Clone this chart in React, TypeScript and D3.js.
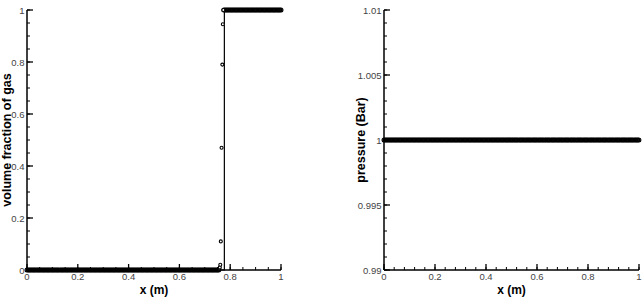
import React from "react";
import * as d3 from "d3";

// Shared cell-centre grid (m)
const xGrid = [
  0, 0.005, 0.01, 0.015, 0.02, 0.025, 0.03, 0.035, 0.04, 0.045, 0.05, 0.055, 0.06, 0.065, 0.07, 0.075, 0.08, 0.085, 0.09, 0.095,
  0.1, 0.105, 0.11, 0.115, 0.12, 0.125, 0.13, 0.135, 0.14, 0.145, 0.15, 0.155, 0.16, 0.165, 0.17, 0.175, 0.18, 0.185, 0.19, 0.195,
  0.2, 0.205, 0.21, 0.215, 0.22, 0.225, 0.23, 0.235, 0.24, 0.245, 0.25, 0.255, 0.26, 0.265, 0.27, 0.275, 0.28, 0.285, 0.29, 0.295,
  0.3, 0.305, 0.31, 0.315, 0.32, 0.325, 0.33, 0.335, 0.34, 0.345, 0.35, 0.355, 0.36, 0.365, 0.37, 0.375, 0.38, 0.385, 0.39, 0.395,
  0.4, 0.405, 0.41, 0.415, 0.42, 0.425, 0.43, 0.435, 0.44, 0.445, 0.45, 0.455, 0.46, 0.465, 0.47, 0.475, 0.48, 0.485, 0.49, 0.495,
  0.5, 0.505, 0.51, 0.515, 0.52, 0.525, 0.53, 0.535, 0.54, 0.545, 0.55, 0.555, 0.56, 0.565, 0.57, 0.575, 0.58, 0.585, 0.59, 0.595,
  0.6, 0.605, 0.61, 0.615, 0.62, 0.625, 0.63, 0.635, 0.64, 0.645, 0.65, 0.655, 0.66, 0.665, 0.67, 0.675, 0.68, 0.685, 0.69, 0.695,
  0.7, 0.705, 0.71, 0.715, 0.72, 0.725, 0.73, 0.735, 0.74, 0.745, 0.75, 0.755, 0.76, 0.765, 0.77, 0.775, 0.78, 0.785, 0.79, 0.795,
  0.8, 0.805, 0.81, 0.815, 0.82, 0.825, 0.83, 0.835, 0.84, 0.845, 0.85, 0.855, 0.86, 0.865, 0.87, 0.875, 0.88, 0.885, 0.89, 0.895,
  0.9, 0.905, 0.91, 0.915, 0.92, 0.925, 0.93, 0.935, 0.94, 0.945, 0.95, 0.955, 0.96, 0.965, 0.97, 0.975, 0.98, 0.985, 0.99, 0.995,
  1,
];

// Gas volume fraction on the grid (null = cell plotted in the fine transition list below)
const alphaOnGrid: (number | null)[] = [
  0, 0, 0, 0, 0, 0, 0, 0, 0, 0, 0, 0, 0, 0, 0, 0, 0, 0, 0, 0,
  0, 0, 0, 0, 0, 0, 0, 0, 0, 0, 0, 0, 0, 0, 0, 0, 0, 0, 0, 0,
  0, 0, 0, 0, 0, 0, 0, 0, 0, 0, 0, 0, 0, 0, 0, 0, 0, 0, 0, 0,
  0, 0, 0, 0, 0, 0, 0, 0, 0, 0, 0, 0, 0, 0, 0, 0, 0, 0, 0, 0,
  0, 0, 0, 0, 0, 0, 0, 0, 0, 0, 0, 0, 0, 0, 0, 0, 0, 0, 0, 0,
  0, 0, 0, 0, 0, 0, 0, 0, 0, 0, 0, 0, 0, 0, 0, 0, 0, 0, 0, 0,
  0, 0, 0, 0, 0, 0, 0, 0, 0, 0, 0, 0, 0, 0, 0, 0, 0, 0, 0, 0,
  0, 0, 0, 0, 0, 0, 0, 0, 0, 0, 0, 0, null, null, null, 1, 1, 1, 1, 1,
  1, 1, 1, 1, 1, 1, 1, 1, 1, 1, 1, 1, 1, 1, 1, 1, 1, 1, 1, 1,
  1, 1, 1, 1, 1, 1, 1, 1, 1, 1, 1, 1, 1, 1, 1, 1, 1, 1, 1, 1,
  1,
];

// Cells across the interface
const transitionX = [0.757, 0.759, 0.761, 0.763, 0.766, 0.769, 0.771, 0.773];
const transitionAlpha = [0.005, 0.01, 0.02, 0.11, 0.47, 0.79, 0.945, 1];

// Exact solution (solid line)
const exactX = [0, 0.777, 0.777, 1];
const exactAlpha = [0, 0, 1, 1];

// Pressure (Bar) on the grid
const pressureOnGrid = [
  1, 1, 1, 1, 1, 1, 1, 1, 1, 1, 1, 1, 1, 1, 1, 1, 1, 1, 1, 1,
  1, 1, 1, 1, 1, 1, 1, 1, 1, 1, 1, 1, 1, 1, 1, 1, 1, 1, 1, 1,
  1, 1, 1, 1, 1, 1, 1, 1, 1, 1, 1, 1, 1, 1, 1, 1, 1, 1, 1, 1,
  1, 1, 1, 1, 1, 1, 1, 1, 1, 1, 1, 1, 1, 1, 1, 1, 1, 1, 1, 1,
  1, 1, 1, 1, 1, 1, 1, 1, 1, 1, 1, 1, 1, 1, 1, 1, 1, 1, 1, 1,
  1, 1, 1, 1, 1, 1, 1, 1, 1, 1, 1, 1, 1, 1, 1, 1, 1, 1, 1, 1,
  1, 1, 1, 1, 1, 1, 1, 1, 1, 1, 1, 1, 1, 1, 1, 1, 1, 1, 1, 1,
  1, 1, 1, 1, 1, 1, 1, 1, 1, 1, 1, 1, 1, 1, 1, 1, 1, 1, 1, 1,
  1, 1, 1, 1, 1, 1, 1, 1, 1, 1, 1, 1, 1, 1, 1, 1, 1, 1, 1, 1,
  1, 1, 1, 1, 1, 1, 1, 1, 1, 1, 1, 1, 1, 1, 1, 1, 1, 1, 1, 1,
  1,
];
const exactPressureX = [0, 1];
const exactPressure = [1, 1];

// Ticks
const xMajorTicks = [0, 0.2, 0.4, 0.6, 0.8, 1];
const xTickLabels = ["0", "0.2", "0.4", "0.6", "0.8", "1"];
const alphaMajorTicks = [0, 0.2, 0.4, 0.6, 0.8, 1];
const alphaTickLabels = ["0", "0.2", "0.4", "0.6", "0.8", "1"];
const pressureMajorTicks = [0.99, 0.995, 1, 1.005, 1.01];
const pressureTickLabels = ["0.99", "0.995", "1", "1.005", "1.01"];

const FONT = "'Liberation Sans', Arial, Helvetica, sans-serif";
const TICK_COLOR = "#444";

type PanelProps = {
  left: number;
  right: number;
  top: number;
  bottom: number;
  yDomain: [number, number];
  xMinorStep: number;
  yMinorStep: number;
  yMajor: number[];
  yLabels: string[];
  yTitle: string;
  yTitleX: number;
  children: (x: d3.ScaleLinear<number, number>, y: d3.ScaleLinear<number, number>) => React.ReactNode;
};

function minorTicks(domain: [number, number], step: number) {
  const n = Math.round((domain[1] - domain[0]) / step);
  const out: number[] = [];
  for (let i = 0; i <= n; i++) out.push(domain[0] + i * step);
  return out;
}

function Panel(p: PanelProps) {
  const x = d3.scaleLinear().domain([0, 1]).range([p.left, p.right]);
  const y = d3.scaleLinear().domain(p.yDomain).range([p.bottom, p.top]);
  const xm = minorTicks([0, 1], p.xMinorStep);
  const ym = minorTicks(p.yDomain, p.yMinorStep);
  const cy = (p.top + p.bottom) / 2;
  return (
    <g>
      {p.children(x, y)}
      {/* axes */}
      <line x1={p.left} x2={p.right} y1={p.bottom} y2={p.bottom} stroke="#000" strokeWidth={1.5} />
      <line x1={p.left} x2={p.left} y1={p.top} y2={p.bottom} stroke="#000" strokeWidth={1.5} />
      {xm.map((v, i) => (
        <line key={"xm" + i} x1={x(v)} x2={x(v)} y1={p.bottom} y2={p.bottom - 3} stroke="#000" strokeWidth={1} />
      ))}
      {xMajorTicks.map((v, i) => (
        <line key={"xM" + i} x1={x(v)} x2={x(v)} y1={p.bottom} y2={p.bottom - 6} stroke="#000" strokeWidth={1.3} />
      ))}
      {ym.map((v, i) => (
        <line key={"ym" + i} x1={p.left} x2={p.left + 3} y1={y(v)} y2={y(v)} stroke="#000" strokeWidth={1} />
      ))}
      {p.yMajor.map((v, i) => (
        <line key={"yM" + i} x1={p.left} x2={p.left + 6} y1={y(v)} y2={y(v)} stroke="#000" strokeWidth={1.3} />
      ))}
      {xMajorTicks.map((v, i) => (
        <text key={"xl" + i} x={x(v)} y={p.bottom + 10} fontSize={9.5} fontFamily={FONT} fill={TICK_COLOR} textAnchor="middle">
          {xTickLabels[i]}
        </text>
      ))}
      {p.yMajor.map((v, i) => (
        <text key={"yl" + i} x={p.left - 2.5} y={y(v) + 3.5} fontSize={9.5} fontFamily={FONT} fill={TICK_COLOR} textAnchor="end">
          {p.yLabels[i]}
        </text>
      ))}
      <text x={(p.left + p.right) / 2} y={p.bottom + 24} fontSize={12} fontWeight="bold" fontFamily={FONT} textAnchor="middle">
        x (m)
      </text>
      <text
        transform={`translate(${p.yTitleX},${cy}) rotate(-90)`}
        fontSize={12.5}
        fontWeight="bold"
        fontFamily={FONT}
        textAnchor="middle"
      >
        {p.yTitle}
      </text>
    </g>
  );
}

const R = 1.9;
const SW = 1.2;

export default function App() {
  const lineGen = (x: d3.ScaleLinear<number, number>, y: d3.ScaleLinear<number, number>, xs: number[], ys: number[]) =>
    d3
      .line<number>()
      .x((_, i) => x(xs[i]))
      .y((v) => y(v))(ys) || "";

  return (
    <svg width={644} height={305} style={{ position: "absolute", left: 0, top: 0, background: "#fff" }}>
      <rect width={644} height={305} fill="#fff" />
      <Panel
        left={27}
        right={281}
        top={10}
        bottom={270}
        yDomain={[0, 1]}
        xMinorStep={0.05}
        yMinorStep={0.05}
        yMajor={alphaMajorTicks}
        yLabels={alphaTickLabels}
        yTitle="volume fraction of gas"
        yTitleX={10.5}
      >
        {(x, y) => (
          <g>
            <path d={lineGen(x, y, exactX, exactAlpha)} fill="none" stroke="#000" strokeWidth={1.2} />
            {xGrid.map((xv, i) =>
              alphaOnGrid[i] === null ? null : (
                <circle key={"a" + i} cx={x(xv)} cy={y(alphaOnGrid[i] as number)} r={R} fill="none" stroke="#000" strokeWidth={SW} />
              )
            )}
            {transitionX.map((xv, i) => (
              <circle key={"t" + i} cx={x(xv)} cy={y(transitionAlpha[i])} r={1.5} fill="#fff" stroke="#000" strokeWidth={1.1} />
            ))}
          </g>
        )}
      </Panel>
      <Panel
        left={384}
        right={639}
        top={10}
        bottom={270}
        yDomain={[0.99, 1.01]}
        xMinorStep={0.04}
        yMinorStep={0.001}
        yMajor={pressureMajorTicks}
        yLabels={pressureTickLabels}
        yTitle="pressure (Bar)"
        yTitleX={365}
      >
        {(x, y) => (
          <g>
            <path d={lineGen(x, y, exactPressureX, exactPressure)} fill="none" stroke="#000" strokeWidth={1.2} />
            {xGrid.map((xv, i) => (
              <circle key={"p" + i} cx={x(xv)} cy={y(pressureOnGrid[i])} r={R} fill="none" stroke="#000" strokeWidth={SW} />
            ))}
          </g>
        )}
      </Panel>
    </svg>
  );
}
